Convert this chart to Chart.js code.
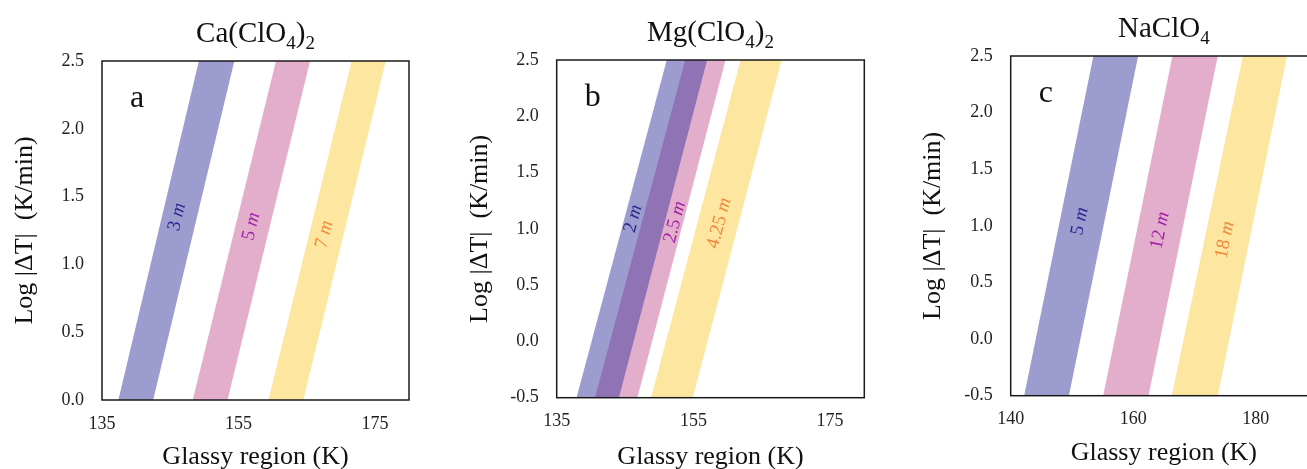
<!DOCTYPE html>
<html>
<head>
<meta charset="utf-8">
<script src="https://cdn.jsdelivr.net/npm/chart.js@4"></script>
<style>
  html, body { margin: 0; padding: 0; background: #fff; width: 1307px; height: 469px; overflow: hidden; position: relative; }
  canvas { position: absolute; top: 0; }
</style>
</head>
<body>
<canvas id="panelA" width="440" height="480" style="left:0px"></canvas>
<canvas id="panelB" width="440" height="480" style="left:440px"></canvas>
<canvas id="panelC" width="460" height="480" style="left:880px"></canvas>
<script>
// ---------- Ca(ClO4)2 ----------
const caTitle = 'Ca(ClO4)2';
const caLetter = 'a';
const caXTicks = [135, 155, 175];
const caYTicks = [0, 0.5, 1, 1.5, 2, 2.5];
const caY = [0, 2.5];                       // log rate at the two ends of each band
const caNames = ['3', '5', '7'];            // molality
const caLo = [[137.4, 149.2], [148.3, 160.5], [159.4, 171.6]];
const caHi = [[142.5, 154.4], [153.4, 165.5], [164.5, 176.6]];
const caLabelX = [146.0, 156.9, 167.6];
const caLabelY = [1.35, 1.28, 1.22];

// ---------- Mg(ClO4)2 ----------
const mgTitle = 'Mg(ClO4)2';
const mgLetter = 'b';
const mgXTicks = [135, 155, 175];
const mgYTicks = [-0.5, 0, 0.5, 1, 1.5, 2, 2.5];
const mgY = [-0.5, 2.5];
const mgNames = ['2', '2.5', '4.25'];
const mgLo = [[137.9, 151.1], [140.6, 153.8], [148.8, 161.9]];
const mgHi = [[144.1, 157.0], [146.8, 159.7], [154.9, 167.9]];
const mgLabelX = [146.2, 152.3, 158.8];
const mgLabelY = [1.09, 1.06, 1.05];

// ---------- NaClO4 ----------
const naTitle = 'NaClO4';
const naLetter = 'c';
const naXTicks = [140, 160, 180];
const naYTicks = [-0.5, 0, 0.5, 1, 1.5, 2, 2.5];
const naY = [-0.5, 2.5];
const naNames = ['5', '12', '18'];
const naLo = [[142.2, 153.5], [155.1, 166.4], [166.3, 177.9]];
const naHi = [[149.5, 160.8], [162.5, 173.8], [173.8, 185.1]];
const naLabelX = [151.3, 164.4, 175.0];
const naLabelY = [1.04, 0.96, 0.875];

const bandFills = ['rgba(59,57,159,0.5)', 'rgba(199,93,151,0.5)', 'rgba(251,205,65,0.5)'];
const labelColors = ['#2c2a8e', '#a11fa6', '#f2883a'];
const SERIF = "'Liberation Serif', 'Times New Roman', serif";

// draws a run of text pieces (each with its own font / vertical shift)
function drawRich(ctx, segs, x, y) {
  let total = 0;
  segs.forEach(s => { ctx.font = s.font; s.w = ctx.measureText(s.t).width; total += s.w; });
  let cx = x - total / 2;
  segs.forEach(s => { ctx.font = s.font; ctx.fillText(s.t, cx, y + (s.dy || 0)); cx += s.w; });
}

// chemical formula -> pieces with subscript digits
function formulaSegs(str) {
  const out = [];
  for (const part of str.match(/\d+|\D+/g)) {
    if (/^\d+$/.test(part)) out.push({ t: part, font: '19px ' + SERIF, dy: 7 });
    else out.push({ t: part, font: '29px ' + SERIF, dy: 0 });
  }
  return out;
}

const decor = {
  id: 'panelDecor',
  afterDatasetsDraw(chart, args, opts) {
    const { ctx, chartArea: a, scales: { x, y } } = chart;
    ctx.save();
    // molality labels along each band
    ctx.textBaseline = 'middle';
    opts.names.forEach((n, i) => {
      const lo = opts.lo[i], hi = opts.hi[i];
      const xb = x.getPixelForValue((lo[0] + hi[0]) / 2), yb = y.getPixelForValue(opts.ys[0]);
      const xt = x.getPixelForValue((lo[1] + hi[1]) / 2), yt = y.getPixelForValue(opts.ys[1]);
      const ang = Math.atan2(yt - yb, xt - xb);
      ctx.save();
      ctx.translate(x.getPixelForValue(opts.labelX[i]), y.getPixelForValue(opts.labelY[i]));
      ctx.rotate(ang);
      ctx.fillStyle = labelColors[i];
      drawRich(ctx, [
        { t: n + ' ', font: '19px ' + SERIF },
        { t: 'm', font: 'italic 19px ' + SERIF }
      ], 0, 0);
      ctx.restore();
    });
    // frame
    ctx.strokeStyle = '#1a1a1a';
    ctx.lineWidth = 1.5;
    ctx.strokeRect(a.left, a.top, a.right - a.left, a.bottom - a.top);
    // panel letter
    ctx.fillStyle = '#111';
    ctx.textBaseline = 'alphabetic';
    ctx.textAlign = 'left';
    ctx.font = '32px ' + SERIF;
    ctx.fillText(opts.letter, a.left + 28, a.top + 46);
    // panel title
    ctx.fillStyle = '#111';
    drawRich(ctx, formulaSegs(opts.title), (a.left + a.right) / 2, a.top - 19);
    ctx.restore();
  }
};

function makePanel(id, p) {
  const datasets = [];
  p.lo.forEach((lo, i) => {
    const hi = p.hi[i];
    datasets.push({
      data: p.ys.map((v, k) => ({ x: lo[k], y: v })),
      borderColor: 'transparent', borderWidth: 0, pointRadius: 0, fill: false
    });
    datasets.push({
      data: p.ys.map((v, k) => ({ x: hi[k], y: v })),
      borderColor: 'transparent', borderWidth: 0, pointRadius: 0,
      fill: '-1', backgroundColor: bandFills[i]
    });
  });

  new Chart(document.getElementById(id), {
    type: 'line',
    data: { datasets },
    options: {
      indexAxis: 'y',
      responsive: false,
      animation: false,
      layout: { padding: { left: 0, right: p.padRight, top: p.padTop, bottom: 0 } },
      plugins: {
        legend: { display: false },
        tooltip: { enabled: false },
        panelDecor: {
          title: p.title, letter: p.letter, names: p.names, lo: p.lo, hi: p.hi,
          ys: p.ys, labelX: p.labelX, labelY: p.labelY
        }
      },
      scales: {
        x: {
          type: 'linear', position: 'bottom', min: p.xMin, max: p.xMax,
          afterBuildTicks: s => { s.ticks = p.xTicks.map(v => ({ value: v })); },
          afterFit: s => { s.height = p.xHeight; },
          grid: { display: false, drawTicks: false },
          border: { display: false },
          ticks: { color: '#222', padding: 13, font: { family: SERIF, size: 18 }, maxRotation: 0 },
          title: {
            display: true, text: 'Glassy region (K)', color: '#111',
            font: { family: SERIF, size: 26, lineHeight: 1.2 },
            padding: { top: 0, bottom: p.xTitlePad }
          }
        },
        y: {
          type: 'linear', position: 'left', min: p.ys[0], max: p.ys[1],
          afterBuildTicks: s => { s.ticks = p.yTicks.map(v => ({ value: v })); },
          afterFit: s => { s.width = p.yWidth; },
          grid: { display: false, drawTicks: false },
          border: { display: false },
          ticks: { color: '#222', padding: 18, font: { family: SERIF, size: 18 },
                   callback: v => v.toFixed(1) },
          title: {
            display: true, text: 'Log |ΔT|  (K/min)', color: '#111',
            font: { family: SERIF, size: 26, lineHeight: 1.2 },
            padding: { top: p.yTitlePad, bottom: 0 }
          }
        }
      }
    },
    plugins: [decor]
  });
}

makePanel('panelA', {
  title: caTitle, letter: caLetter, names: caNames, lo: caLo, hi: caHi, ys: caY,
  labelX: caLabelX, labelY: caLabelY, xTicks: caXTicks, yTicks: caYTicks,
  xMin: 135, xMax: 180, padRight: 31, padTop: 61, yWidth: 102, xHeight: 80,
  xTitlePad: 7.4, yTitlePad: 9.4
});
makePanel('panelB', {
  title: mgTitle, letter: mgLetter, names: mgNames, lo: mgLo, hi: mgHi, ys: mgY,
  labelX: mgLabelX, labelY: mgLabelY, xTicks: mgXTicks, yTicks: mgYTicks,
  xMin: 135, xMax: 180, padRight: 15.7, padTop: 60, yWidth: 116.7, xHeight: 82.3,
  xTitlePad: 7.4, yTitlePad: 24.4
});
makePanel('panelC', {
  title: naTitle, letter: naLetter, names: naNames, lo: naLo, hi: naHi, ys: naY,
  labelX: naLabelX, labelY: naLabelY, xTicks: naXTicks, yTicks: naYTicks,
  xMin: 140, xMax: 190, padRight: 23, padTop: 56, yWidth: 130.7, xHeight: 84.3,
  xTitlePad: 11.4, yTitlePad: 37.4
});
</script>
</body>
</html>
